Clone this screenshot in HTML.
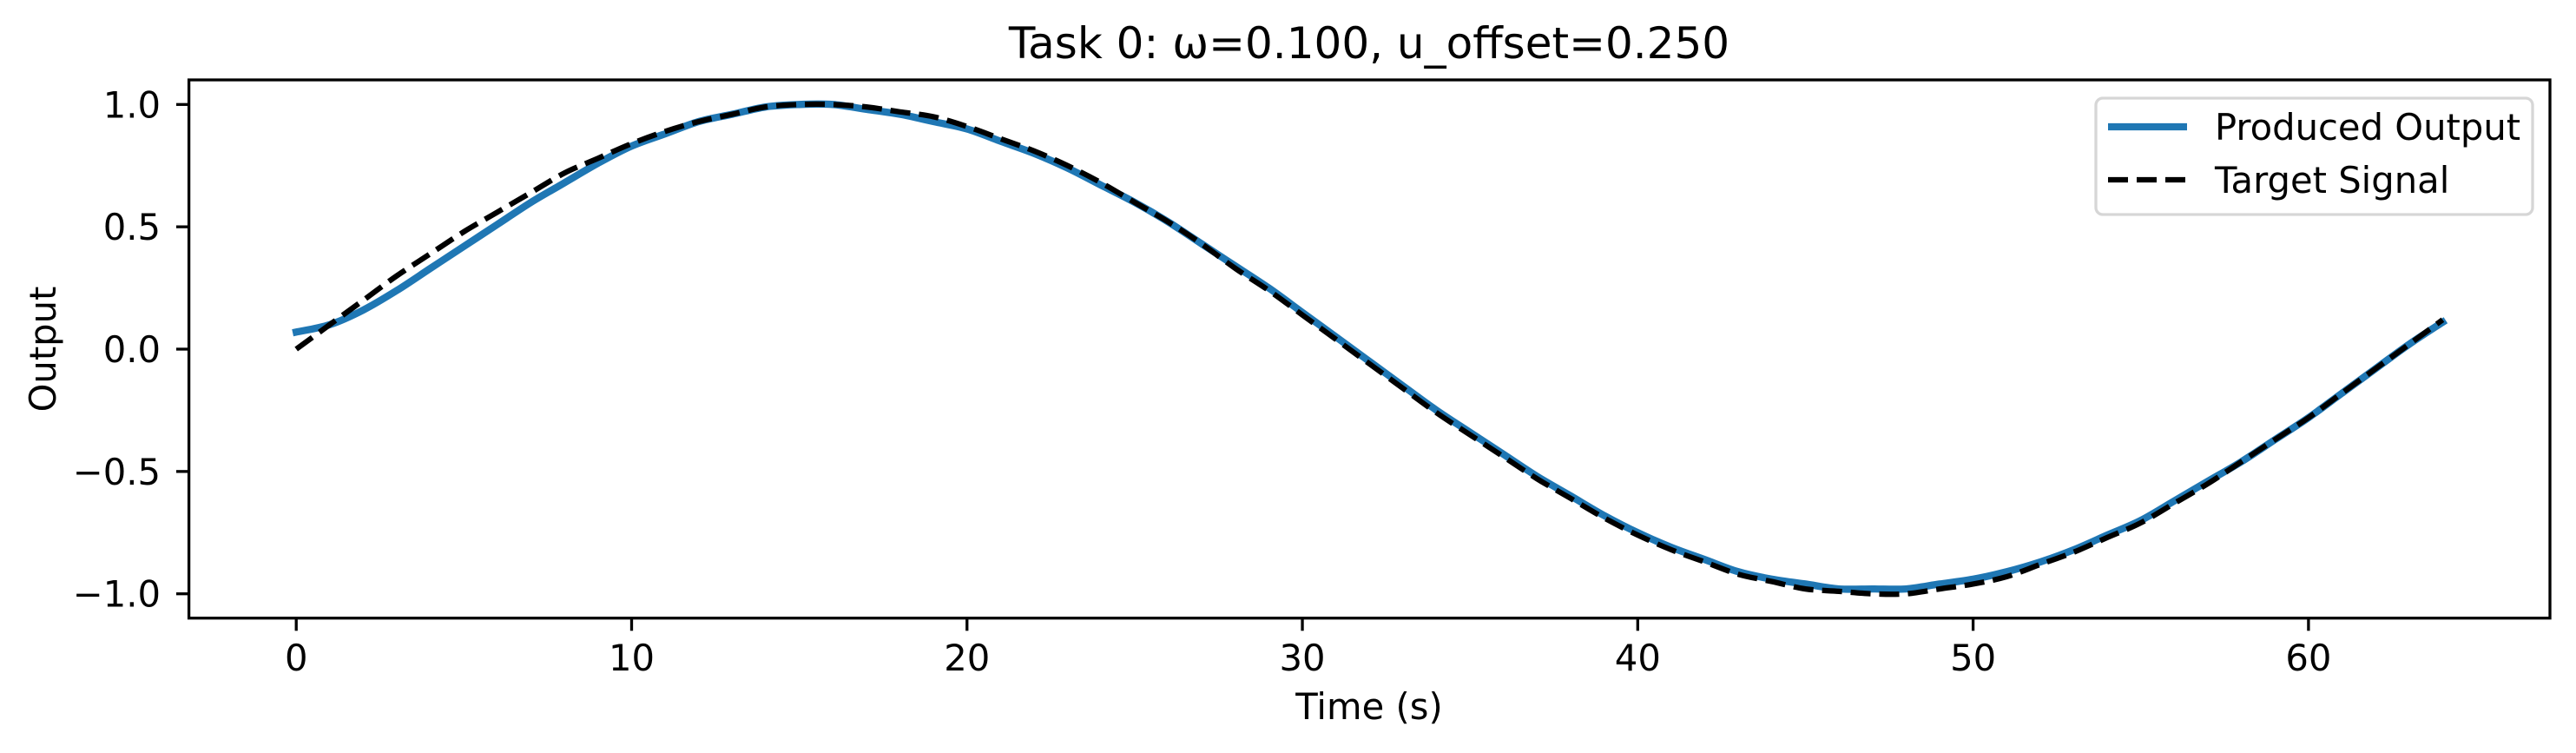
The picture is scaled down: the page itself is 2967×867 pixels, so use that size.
<!DOCTYPE html>
<html><head><meta charset="utf-8">
<style>
html,body{margin:0;padding:0;background:#fff;}
svg{display:block;font-family:"DejaVu Sans","Liberation Sans",sans-serif;}
</style></head>
<body>
<svg id="chart" width="2967" height="867" viewBox="0 0 2967 867" xmlns="http://www.w3.org/2000/svg">
<rect width="2967" height="867" fill="#fff"/>
<text x="1577" y="67" font-size="50" text-anchor="middle">Task 0: ω=0.100, u_offset=0.250</text>
<g id="plot"></g>
<text x="1577" y="828" font-size="41.7" text-anchor="middle">Time (s)</text>
<text transform="translate(64,402) rotate(-90)" font-size="41.7" text-anchor="middle">Output</text>
<g>
<rect x="2414" y="113" width="503" height="134" rx="8" fill="#fff" fill-opacity="0.8" stroke="#d6d6d6" stroke-width="3.3"/>
<line x1="2428" y1="146" x2="2519" y2="146" stroke="#1f77b4" stroke-width="8.3"/>
<text x="2551" y="161" font-size="41.7">Produced Output</text>
<line x1="2428" y1="207" x2="2519" y2="207" stroke="#000" stroke-width="6.25" stroke-dasharray="23,10"/>
<text x="2551" y="222" font-size="41.7">Target Signal</text>
</g>
</svg>
<script>
const times = [0,1,2,3,4,5,6,7,8,9,10,11,12,13,14,15,16,17,18,19,20,21,22,23,24,25,26,27,28,29,30,31,32,33,34,35,36,37,38,39,40,41,42,43,44,45,46,47,48,49,50,51,52,53,54,55,56,57,58,59,60,61,62,63,64];
const produced = [0.07,0.10,0.16,0.24,0.33,0.42,0.51,0.60,0.68,0.76,0.83,0.88,0.93,0.96,0.99,1.00,1.00,0.98,0.96,0.93,0.90,0.85,0.80,0.74,0.67,0.60,0.52,0.43,0.34,0.25,0.15,0.05,-0.05,-0.15,-0.25,-0.34,-0.43,-0.52,-0.60,-0.68,-0.75,-0.81,-0.86,-0.91,-0.94,-0.96,-0.98,-0.98,-0.98,-0.96,-0.94,-0.91,-0.87,-0.82,-0.76,-0.70,-0.62,-0.54,-0.46,-0.37,-0.28,-0.18,-0.08,0.02,0.11];
const target = [0.00,0.10,0.20,0.30,0.39,0.48,0.56,0.64,0.72,0.78,0.84,0.89,0.93,0.96,0.99,1.00,1.00,0.99,0.97,0.95,0.91,0.86,0.81,0.75,0.68,0.60,0.52,0.43,0.33,0.24,0.14,0.04,-0.06,-0.16,-0.26,-0.35,-0.44,-0.53,-0.61,-0.69,-0.76,-0.82,-0.87,-0.92,-0.95,-0.98,-0.99,-1.00,-1.00,-0.98,-0.96,-0.93,-0.88,-0.83,-0.77,-0.71,-0.63,-0.55,-0.46,-0.37,-0.28,-0.18,-0.08,0.02,0.12];
const xTicks = [0,10,20,30,40,50,60];
const yTicks = [1.0,0.5,0.0,-0.5,-1.0];
const yTickLabels = ["1.0","0.5","0.0","\u22120.5","\u22121.0"];

const L=217.6,R=2937,T=92,B=711.7;
const xmin=-3.2,xmax=67.2;
const X=v=>L+(v-xmin)/(xmax-xmin)*(R-L);
const Y=v=>402-v*281.7;
const NS="http://www.w3.org/2000/svg";
const g=document.getElementById('plot');
function mk(tag,attrs){const e=document.createElementNS(NS,tag);for(const k in attrs)e.setAttribute(k,attrs[k]);return e;}
function pathFor(vals){
  const pts=times.map((t,i)=>[X(t),Y(vals[i])]);
  let d='M'+pts[0][0].toFixed(1)+','+pts[0][1].toFixed(1);
  for(let i=0;i<pts.length-1;i++){
    const p0=pts[Math.max(i-1,0)],p1=pts[i],p2=pts[i+1],p3=pts[Math.min(i+2,pts.length-1)];
    const c1x=p1[0]+(p2[0]-p0[0])/6,c1y=p1[1]+(p2[1]-p0[1])/6;
    const c2x=p2[0]-(p3[0]-p1[0])/6,c2y=p2[1]-(p3[1]-p1[1])/6;
    d+='C'+c1x.toFixed(1)+','+c1y.toFixed(1)+' '+c2x.toFixed(1)+','+c2y.toFixed(1)+' '+p2[0].toFixed(1)+','+p2[1].toFixed(1);
  }
  return d;
}
const defs=mk('clipPath',{id:'clip'});
defs.appendChild(mk('rect',{x:L,y:T,width:R-L,height:B-T}));
g.appendChild(defs);
const p1=mk('path',{d:pathFor(produced),fill:'none',stroke:'#1f77b4','stroke-width':8.3,'stroke-linejoin':'round','stroke-linecap':'square','clip-path':'url(#clip)'});


g.appendChild(p1);
const p2=mk('path',{d:pathFor(target),fill:'none',stroke:'#000','stroke-width':6.25,'stroke-dasharray':'23,10','stroke-linejoin':'round','clip-path':'url(#clip)'});


g.appendChild(p2);
const frame=mk('rect',{x:L,y:T,width:R-L,height:B-T,fill:'none',stroke:'#000','stroke-width':3.3});


g.appendChild(frame);
xTicks.forEach(v=>{
  const t=mk('line',{x1:X(v),x2:X(v),y1:B,y2:B+14.6,stroke:'#000','stroke-width':3.3});
  
  
  g.appendChild(t);
  const lb=mk('text',{x:X(v),y:772,'font-size':41.7,'text-anchor':'middle'});
  lb.textContent=String(v);
  
  
  g.appendChild(lb);
});
yTicks.forEach((v,i)=>{
  const t=mk('line',{x1:L-14.6,x2:L,y1:Y(v),y2:Y(v),stroke:'#000','stroke-width':3.3});
  
  
  g.appendChild(t);
  const lb=mk('text',{x:185,y:Y(v)+15,'font-size':41.7,'text-anchor':'end'});
  lb.textContent=yTickLabels[i];
  
  
  g.appendChild(lb);
});
</script>
</body></html>
